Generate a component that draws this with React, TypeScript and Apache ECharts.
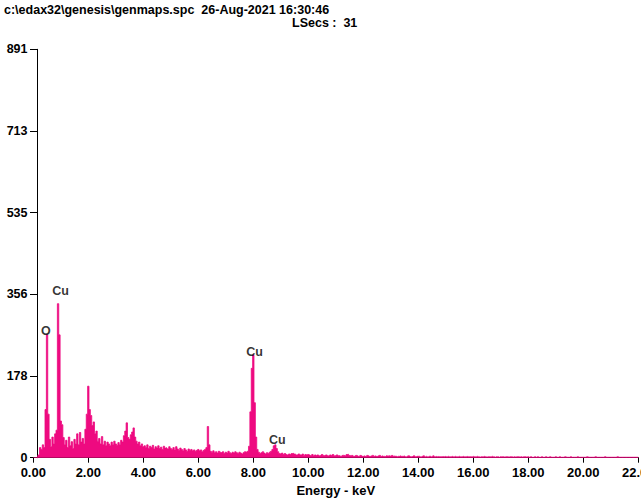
import React, { useEffect, useRef } from 'react';
import * as echarts from 'echarts';

const energyStep = 0.05;

// Counts, 0.00 – 4.00 keV
const countsLow = [
  0, 0, 0, 0, 6, 22, 18, 28, 22, 105,
  268, 95, 40, 24, 45, 30, 52, 60, 336, 268,
  80, 72, 44, 28, 38, 22, 45, 26, 35, 20,
  40, 30, 52, 28, 55, 34, 42, 30, 62, 95,
  156, 105, 92, 70, 78, 52, 58, 36, 42, 30,
  46, 28, 36, 26, 34, 30, 26, 34, 28, 36,
  30, 27, 33, 28, 38, 34, 48, 58, 76, 44,
  40, 50, 56, 65, 45, 36, 30, 34, 26, 30,
  24,
];

// Counts, 4.05 – 10.00 keV
const countsMid = [
  26, 22, 28, 20, 25, 22, 27, 19, 24, 21, 26, 20, 23, 18, 25, 21, 22, 19, 24, 20,
  18, 22, 17, 24, 19, 16, 21, 18, 15, 20, 17, 14, 19, 16, 18, 15, 17, 14, 16, 18,
  15, 17, 13, 16, 18, 22,
  68, 28,
  14, 12, 15, 11, 13, 10, 14, 12, 11, 13, 9, 12, 10, 14, 11, 9, 12, 10, 13, 11, 9, 12, 10, 8, 11, 13, 12, 14,
  25, 100, 195, 224, 120, 45, 18,
  12, 9, 11, 13, 10, 8, 11, 9, 12, 14,
  18, 26, 28, 20, 13,
  9, 8, 10, 7, 9, 8, 6, 8, 7, 9, 10, 8, 7, 6, 8, 7, 6, 8, 5, 7, 6, 7,
];

// Counts, 10.05 – 22.00 keV
const countsHigh = [
  6, 5, 7, 4, 6, 5, 6, 4, 5, 7, 5, 4, 6, 5, 4, 6, 5, 7, 4, 5, 6, 4, 5, 3, 5, 6, 4, 7, 8, 5, 4, 5, 3, 4, 5, 4, 3, 5, 4, 3,
  4, 3, 5, 4, 3, 4, 5, 3, 4, 3, 4, 5, 3, 4, 3, 2, 4, 3, 4, 3, 5, 3, 4, 3, 2, 3, 4, 3, 3, 4, 2, 3, 4, 3, 2, 3, 4, 2, 3, 3,
  3, 2, 3, 4, 2, 3, 2, 3, 3, 2, 4, 2, 3, 2, 3, 2, 2, 3, 2, 3, 2, 3, 2, 2, 3, 2, 3, 2, 2, 3, 2, 2, 3, 2, 2, 3, 2, 2, 2, 3,
  2, 2, 3, 2, 1, 2, 2, 3, 2, 1, 2, 2, 2, 3, 2, 1, 2, 2, 1, 2, 2, 2, 1, 2, 2, 1, 2, 2, 1, 2, 1, 2, 2, 1, 2, 1, 2, 2, 1, 2,
  1, 2, 1, 1, 2, 1, 2, 1, 1, 2, 1, 1, 2, 1, 1, 2, 1, 1, 1, 2, 1, 1, 2, 1, 1, 1, 2, 1, 1, 1, 2, 1, 1, 1, 1, 2, 1, 1, 1, 1,
  1, 1, 2, 1, 1, 1, 1, 1, 2, 1, 1, 1, 1, 1, 1, 2, 1, 1, 1, 1, 1, 1, 1, 1, 2, 1, 1, 1, 1, 1, 1, 1, 1, 1, 1, 1, 1, 1, 1, 1,
];

// Peak identification labels (anchor energy keV, anchor counts)
const peakNames = ['O', 'Cu', 'Cu', 'Cu'];
const peakLabelEnergy = [0.455, 0.99, 8.05, 8.87];
const peakLabelCount = [276, 364, 231, 39];

// Axis scale
const yMax = 891;
const yTickCount = 5;
const xMax = 22;
const xInterval = 2;

const titleLine1 = 'c:\\edax32\\genesis\\genmaps.spc  26-Aug-2021 16:30:46';
const titleLine2 = 'LSecs :  31';
const xAxisTitle = 'Energy - keV';

const PINK = '#EE0A80';
const FONT = '"Liberation Sans", Arial, Helvetica, sans-serif';

export default function App() {
  const ref = useRef<HTMLDivElement>(null);

  useEffect(() => {
    if (!ref.current) return;
    const chart = echarts.init(ref.current, null, { renderer: 'svg' });
    const counts = [...countsLow, ...countsMid, ...countsHigh];
    const spectrum = counts.map((c, i) => [Number((i * energyStep).toFixed(2)), c]);
    const labels = peakNames.map((n, i) => ({
      name: n,
      value: [peakLabelEnergy[i], peakLabelCount[i]],
    }));

    const textStyle = { color: '#000', fontFamily: FONT, fontWeight: 'bold' as const };

    chart.setOption({
      animation: false,
      backgroundColor: '#ffffff',
      grid: {
        left: 33.3,
        right: 2.7,
        top: 49.3,
        bottom: 43.3,
        containLabel: false,
        outerBoundsMode: 'none',
      },
      xAxis: {
        type: 'value',
        min: 0,
        max: xMax,
        interval: xInterval,
        axisLine: { show: true, onZero: false, lineStyle: { color: '#000', width: 1 } },
        axisTick: { show: true, length: 5, lineStyle: { color: '#000', width: 1 } },
        axisLabel: {
          ...textStyle,
          fontSize: 13,
          margin: 8,
          showMaxLabel: true,
          showMinLabel: true,
          hideOverlap: false,
          formatter: (v: number) => v.toFixed(2),
        },
        splitLine: { show: false },
        name: xAxisTitle,
        nameLocation: 'middle',
        nameGap: 23,
        nameTextStyle: { ...textStyle, fontSize: 13 },
      },
      yAxis: {
        type: 'value',
        min: 0,
        max: yMax,
        interval: yMax / yTickCount,
        offset: -4.2,
        axisLine: { show: true, onZero: false, lineStyle: { color: '#000', width: 1 } },
        axisTick: { show: true, length: 7.5, lineStyle: { color: '#000', width: 1 } },
        axisLabel: {
          ...textStyle,
          fontSize: 12.5,
          margin: 10,
          showMaxLabel: true,
          formatter: (v: number) => String(Math.round(v)),
        },
        splitLine: { show: false },
      },
      series: [
        {
          type: 'line',
          data: spectrum,
          step: 'middle',
          symbol: 'none',
          showSymbol: false,
          lineStyle: { color: PINK, width: 0.8 },
          itemStyle: { color: PINK },
          areaStyle: { color: PINK, opacity: 1 },
          silent: true,
          z: 1,
        },
        {
          type: 'scatter',
          data: labels,
          symbolSize: 0,
          itemStyle: { color: 'rgba(0,0,0,0)' },
          label: {
            show: true,
            position: 'inside',
            formatter: '{b}',
            ...textStyle,
            fontSize: 12.5,
          },
          silent: true,
          z: 5,
        },
      ],
      graphic: [
        {
          type: 'text',
          left: 4,
          top: 3,
          style: { text: titleLine1, fill: '#000', fontFamily: FONT, fontWeight: 'bold', fontSize: 12.5 },
        },
        {
          type: 'text',
          left: 292,
          top: 16,
          style: { text: titleLine2, fill: '#000', fontFamily: FONT, fontWeight: 'bold', fontSize: 12.5 },
        },
      ],
    });
    return () => chart.dispose();
  }, []);

  return (
    <div
      ref={ref}
      style={{ position: 'fixed', left: 0, top: 0, width: 641, height: 501, background: '#fff' }}
    />
  );
}
